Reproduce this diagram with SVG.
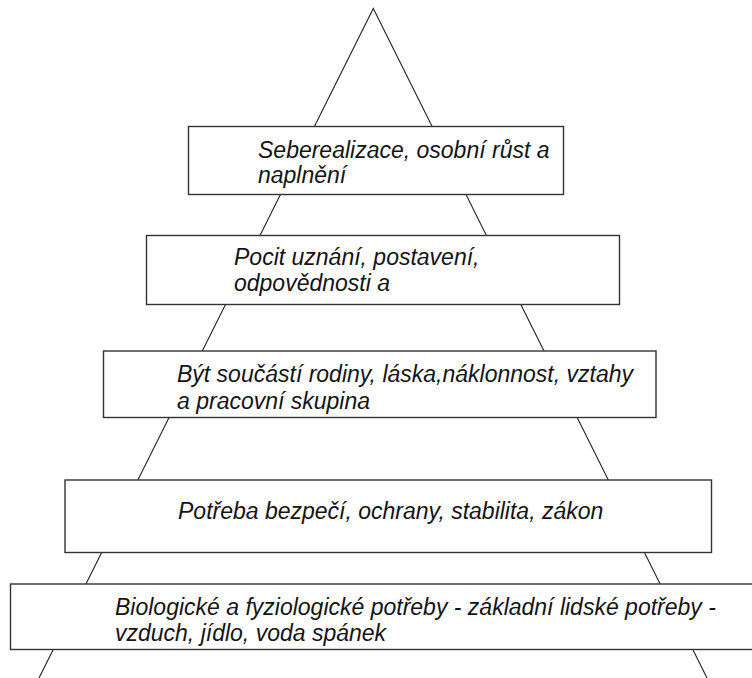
<svg xmlns="http://www.w3.org/2000/svg" width="752" height="678" viewBox="0 0 752 678">
<style>
.box{fill:#fff;stroke:#333;stroke-width:1.4}
.edge{fill:none;stroke:#222;stroke-width:1.1}
.t{font-family:"Liberation Sans",Arial,sans-serif;font-style:italic;font-size:23px;fill:#141414}
</style>
<rect width="752" height="678" fill="#fff"/>
<g id="connectors">
<polyline class="edge" points="39,678 373.3,8.5 707,678"/>
</g>
<g id="level5">
<rect class="box" x="10.5" y="584" width="760" height="65.5"/>
<text class="t" x="115" y="615">Biologické a fyziologické potřeby - základní lidské potřeby -</text>
<text class="t" x="115" y="641">vzduch, jídlo, voda spánek</text>
</g>
<g id="level4">
<rect class="box" x="65" y="480" width="646.5" height="72.5"/>
<text class="t" x="178" y="519">Potřeba bezpečí, ochrany, stabilita, zákon</text>
</g>
<g id="level3">
<rect class="box" x="103.5" y="351" width="552.5" height="66.5"/>
<text class="t" x="177" y="381.5">Být součástí rodiny, láska,náklonnost, vztahy</text>
<text class="t" x="177" y="408.5">a pracovní skupina</text>
</g>
<g id="level2">
<rect class="box" x="146.5" y="235.5" width="473" height="69"/>
<text class="t" x="234" y="265">Pocit uznání, postavení,</text>
<text class="t" x="234" y="291">odpovědnosti a</text>
</g>
<g id="level1">
<rect class="box" x="188.5" y="126.5" width="375" height="68"/>
<text class="t" x="258" y="157.5">Seberealizace, osobní růst a</text>
<text class="t" x="258" y="183">naplnění</text>
</g>
</svg>
